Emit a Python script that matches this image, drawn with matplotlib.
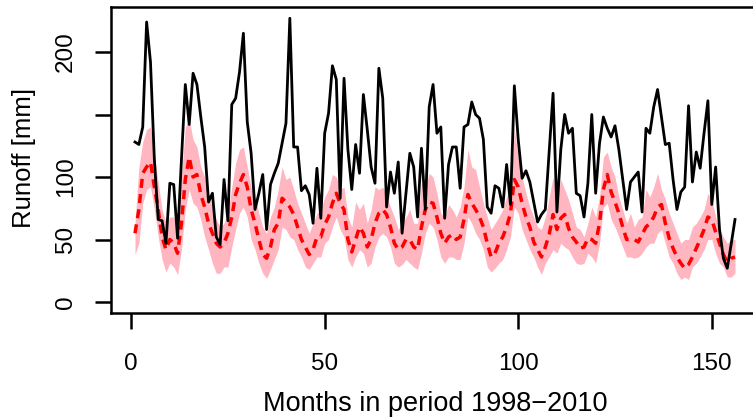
import numpy as np
import matplotlib
matplotlib.use("Agg")
import matplotlib.pyplot as plt

months = np.arange(1, 157)

observed = [
    128, 126, 140, 224, 192, 114, 66, 65, 47, 95, 94, 51, 114, 174, 142, 183, 174, 148, 124, 80,
    87, 52, 46, 98, 65, 158, 163, 184, 215, 144, 119, 74, 87, 102, 58, 94, 103, 111, 127, 143,
    227, 124, 124, 89, 93, 86, 63, 107, 67, 135, 151, 189, 178, 83, 179, 122, 90, 126, 103, 166,
    138, 108, 95, 187, 163, 76, 104, 87, 112, 55, 87, 119, 108, 68, 123, 74, 156, 174, 135, 140,
    67, 110, 124, 124, 91, 140, 142, 160, 150, 147, 130, 76, 71, 93, 91, 76, 110, 78, 173, 130,
    99, 105, 96, 80, 64, 70, 74, 120, 167, 72, 122, 150, 135, 139, 87, 85, 68, 95, 150, 87,
    127, 148, 139, 132, 141, 122, 98, 74, 96, 100, 104, 72, 139, 135, 156, 170, 148, 126, 127, 98,
    74, 88, 92, 157, 96, 120, 107, 135, 161, 78, 108, 58, 35, 27, 46, 66,
]

sim_mean = [
    55, 74, 103, 108, 112, 92, 74, 52, 42, 50, 47, 39, 63, 98, 116, 100, 102, 86, 76, 63,
    55, 47, 44, 47, 55, 68, 86, 95, 102, 92, 74, 63, 50, 38, 35, 44, 58, 63, 83, 80,
    76, 70, 60, 50, 44, 38, 42, 52, 52, 62, 68, 79, 87, 79, 74, 50, 40, 50, 60, 55,
    44, 50, 63, 71, 74, 70, 60, 47, 42, 44, 50, 50, 44, 42, 60, 74, 80, 79, 68, 55,
    47, 52, 54, 50, 52, 66, 86, 79, 74, 68, 60, 47, 36, 39, 47, 52, 60, 71, 98, 92,
    79, 68, 60, 48, 42, 36, 44, 54, 70, 58, 67, 70, 59, 52, 48, 43, 44, 51, 50, 47,
    63, 90, 102, 88, 80, 71, 60, 50, 50, 50, 48, 54, 60, 63, 68, 76, 78, 63, 51, 43,
    36, 31, 27, 30, 36, 43, 50, 58, 68, 66, 56, 47, 38, 32, 35, 36,
]

sim_upper = [
    63, 108, 128, 138, 140, 119, 95, 74, 63, 68, 68, 58, 100, 140, 146, 130, 124, 108, 100, 87,
    74, 66, 60, 63, 71, 92, 111, 122, 124, 108, 92, 84, 71, 60, 55, 68, 76, 90, 108, 98,
    100, 90, 79, 71, 63, 55, 63, 71, 74, 84, 90, 102, 100, 90, 92, 68, 60, 80, 74, 79,
    63, 74, 92, 90, 92, 84, 76, 68, 58, 63, 68, 74, 63, 63, 95, 92, 103, 100, 87, 71,
    68, 78, 74, 68, 76, 92, 122, 108, 106, 92, 79, 68, 58, 63, 68, 74, 84, 90, 138, 116,
    100, 87, 76, 68, 60, 58, 68, 84, 100, 84, 98, 90, 82, 71, 60, 58, 52, 63, 76, 68,
    84, 116, 120, 108, 100, 84, 74, 63, 71, 60, 66, 68, 90, 84, 92, 103, 90, 82, 71, 63,
    55, 47, 50, 50, 60, 63, 68, 74, 87, 82, 68, 58, 52, 47, 50, 50,
]

sim_lower = [
    38, 47, 79, 90, 92, 74, 52, 34, 24, 31, 28, 22, 42, 74, 90, 79, 76, 66, 52, 42,
    31, 23, 23, 28, 28, 44, 58, 71, 76, 68, 50, 42, 31, 23, 19, 26, 34, 42, 60, 58,
    52, 50, 42, 36, 28, 26, 31, 36, 36, 47, 50, 60, 68, 58, 52, 34, 28, 36, 42, 39,
    28, 31, 44, 52, 55, 52, 44, 31, 28, 30, 34, 31, 28, 26, 39, 55, 63, 60, 50, 36,
    31, 36, 36, 34, 34, 47, 68, 63, 55, 50, 42, 28, 24, 27, 31, 34, 42, 52, 76, 71,
    58, 50, 42, 36, 28, 22, 31, 36, 42, 39, 47, 44, 42, 36, 31, 30, 31, 39, 36, 31,
    47, 76, 79, 66, 60, 52, 44, 36, 36, 35, 36, 39, 44, 47, 47, 55, 58, 47, 36, 31,
    23, 18, 20, 18, 28, 31, 36, 42, 50, 50, 39, 31, 28, 20, 20, 23,
]

x_ticks = [0, 50, 100, 150]
y_ticks = [0, 50, 100, 150, 200]
y_tick_labels = ["0", "50", "100", "", "200"]

W, H = 753, 418
plt.rcParams["font.family"] = ["Liberation Sans", "DejaVu Sans"]
fig = plt.figure(figsize=(W / 100, H / 100), dpi=100)

left_px, right_px, top_px, bottom_px = 111, 759, 7, 313
ax = fig.add_axes([left_px / W, (H - bottom_px) / H,
                   (right_px - left_px) / W, (bottom_px - top_px) / H])

ax.fill_between(months, sim_lower, sim_upper, color="#FFB6C1", linewidth=0)
ax.plot(months, sim_mean, color="red", linewidth=2.5, dashes=(2.6, 1.8))
ax.plot(months, observed, color="black", linewidth=2.0)

ax.set_xlim(-5.2, 162.2)
ax.set_ylim(-8.8, 236)

ax.set_xticks(x_ticks)
ax.set_xticklabels([str(t) for t in x_ticks])
ax.set_yticks(y_ticks)
ax.set_yticklabels(y_tick_labels, rotation=90, va="center")

for s in ax.spines.values():
    s.set_linewidth(1.8)

ax.tick_params(axis="both", direction="out", length=11.5, width=1.8,
               labelsize=17.5, colors="black")
ax.tick_params(axis="x", pad=17)
ax.tick_params(axis="y", pad=13)

fig.text(435 / W, (H - 411) / H, "Months in period 1998\u22122010",
         fontsize=19.5, ha="center", va="baseline")
fig.text(24 / W, (H - 158) / H, "Runoff [mm]", fontsize=18.5,
         rotation=90, ha="center", va="center")

fig.savefig("out.png", dpi=100)
